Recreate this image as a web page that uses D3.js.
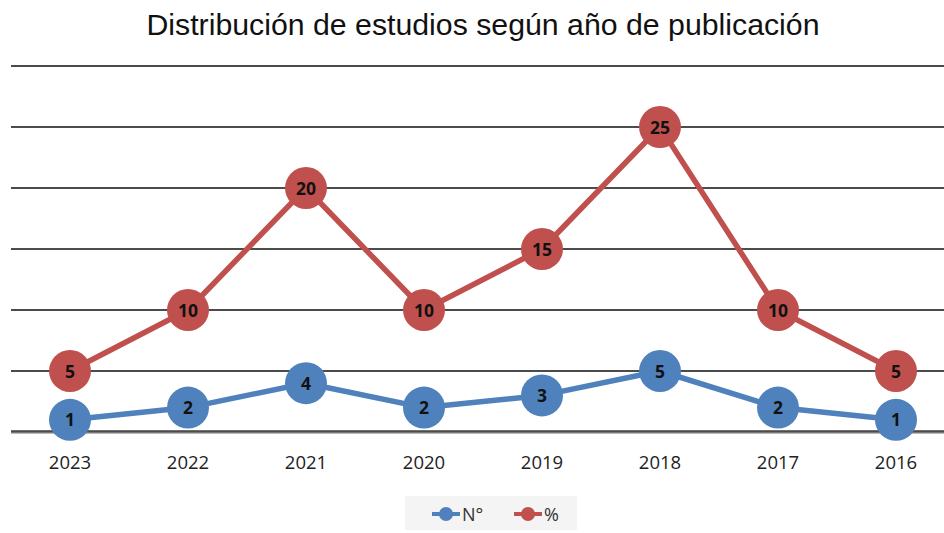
<!DOCTYPE html>
<html>
<head>
<meta charset="utf-8">
<script src="https://cdn.jsdelivr.net/npm/d3@7"></script>
<style>
  body { margin: 0; background: #fff; }
  svg { display: block; }
</style>
</head>
<body>
<svg id="chart" width="944" height="533"></svg>
<script>
const years = ["2023", "2022", "2021", "2020", "2019", "2018", "2017", "2016"];
const countValues = [1, 2, 4, 2, 3, 5, 2, 1];
const percentValues = [5, 10, 20, 10, 15, 25, 10, 5];
const yTicks = [0, 5, 10, 15, 20, 25, 30];

const svg = d3.select("#chart");

const x = d3.scalePoint().domain(years).range([11, 955]).padding(0.5);
const y = d3.scaleLinear().domain([0, 30]).range([432, 66]);

svg.append("text")
    .attr("x", 483)
    .attr("y", 35)
    .attr("text-anchor", "middle")
    .attr("font-family", "Liberation Sans, Arial, sans-serif")
    .attr("font-size", 29)
    .attr("textLength", 673)
    .attr("lengthAdjust", "spacingAndGlyphs")
    .attr("fill", "#111")
    .text("Distribución de estudios según año de publicación");

// gridlines
svg.append("g")
    .selectAll("line")
    .data(yTicks.filter(d => d > 0))
    .join("line")
    .attr("x1", 11).attr("x2", 944)
    .attr("y1", d => y(d)).attr("y2", d => y(d))
    .attr("stroke", "#111")
    .attr("stroke-width", 1.5);

// base axis
svg.append("line")
    .attr("x1", 11).attr("x2", 944)
    .attr("y1", y(0)).attr("y2", y(0))
    .attr("stroke", "#777")
    .attr("stroke-width", 3);
svg.append("line")
    .attr("x1", 11).attr("x2", 944)
    .attr("y1", y(0) - 1).attr("y2", y(0) - 1)
    .attr("stroke", "#222")
    .attr("stroke-width", 1);

// x labels
svg.append("g")
    .selectAll("text")
    .data(years)
    .join("text")
    .attr("x", d => x(d))
    .attr("y", 469)
    .attr("text-anchor", "middle")
    .attr("font-family", "Open Sans, sans-serif")
    .attr("font-size", 18.5)
    .attr("fill", "#222")
    .text(d => d);

const series = [
  { name: "N°", values: countValues, color: "#4f81bd" },
  { name: "%", values: percentValues, color: "#c0504d" }
];

const line = d3.line().x((d, i) => x(years[i])).y(d => y(d));

series.forEach(s => {
  svg.append("path")
      .attr("d", line(s.values))
      .attr("fill", "none")
      .attr("stroke", s.color)
      .attr("stroke-width", 5.5)
      .attr("stroke-linejoin", "round");
  const g = svg.append("g");
  g.selectAll("circle")
      .data(s.values)
      .join("circle")
      .attr("cx", (d, i) => x(years[i]))
      .attr("cy", d => y(d))
      .attr("r", 21)
      .attr("fill", s.color);
  g.selectAll("text")
      .data(s.values)
      .join("text")
      .attr("x", (d, i) => x(years[i]))
      .attr("y", d => y(d) + 6.5)
      .attr("text-anchor", "middle")
      .attr("font-family", "Open Sans, sans-serif")
      .attr("font-weight", "bold")
      .attr("font-size", 17.5)
      .attr("fill", "#111")
      .text(d => d);
});

// legend
const legend = svg.append("g");
legend.append("rect")
    .attr("x", 405).attr("y", 496)
    .attr("width", 172).attr("height", 34)
    .attr("fill", "#f4f4f4");
series.forEach((s, i) => {
  const lx = 432 + i * 82;
  const ly = 514;
  legend.append("line")
      .attr("x1", lx).attr("x2", lx + 28)
      .attr("y1", ly).attr("y2", ly)
      .attr("stroke", s.color).attr("stroke-width", 4);
  legend.append("circle")
      .attr("cx", lx + 14).attr("cy", ly)
      .attr("r", 7)
      .attr("fill", s.color);
  legend.append("text")
      .attr("x", lx + 30).attr("y", ly + 7)
      .attr("font-family", "Open Sans, sans-serif")
      .attr("font-size", 18)
      .attr("fill", "#333")
      .text(s.name);
});
</script>
</body>
</html>
